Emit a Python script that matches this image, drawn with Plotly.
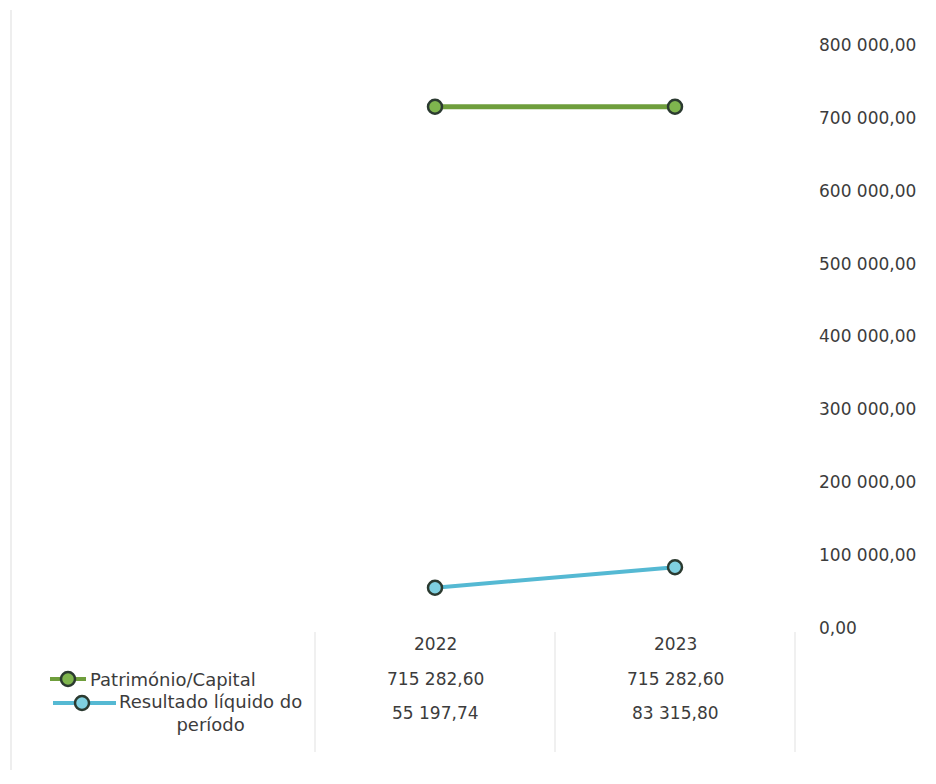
import plotly.graph_objects as go

W, H = 936, 784
OFF = 8  # page body margin compensation

years = ["2022", "2023"]
patrimonio = [715282.60, 715282.60]
resultado = [55197.74, 83315.80]
series_names = ["Património/Capital", "Resultado líquido do<br>período"]
y_ticks = [0, 100000, 200000, 300000, 400000, 500000, 600000, 700000, 800000]

green_line = "#6f9e3c"
green_fill = "#7fb54e"
blue_line = "#55b9d3"
blue_fill = "#7fd0e0"
marker_edge = "#2b3a30"
txt = "#3c3c3c"
FONT = "DejaVu Sans"


def fmt(v):
    return f"{v:,.2f}".replace(",", " ").replace(".", ",")


def px(x):
    return (x - OFF) / W


def py(y):
    return 1 - (y - OFF) / H


fig = go.Figure()
fig.add_trace(go.Scatter(
    x=years, y=patrimonio, mode="lines+markers", name="Património/Capital",
    line=dict(color=green_line, width=5),
    marker=dict(size=14, color=green_fill, line=dict(color=marker_edge, width=2.5)),
    showlegend=False, cliponaxis=False,
))
fig.add_trace(go.Scatter(
    x=years, y=resultado, mode="lines+markers", name="Resultado líquido do período",
    line=dict(color=blue_line, width=4),
    marker=dict(size=14, color=blue_fill, line=dict(color=marker_edge, width=2.5)),
    showlegend=False, cliponaxis=False,
))

shapes = []
annotations = []
grid_col = "#ebebeb"
for xpix in [315, 555, 795]:
    shapes.append(dict(type="line", xref="paper", yref="paper",
                       x0=px(xpix), x1=px(xpix), y0=py(632), y1=py(752),
                       line=dict(color=grid_col, width=1.5)))
shapes.append(dict(type="line", xref="paper", yref="paper",
                   x0=px(11), x1=px(11), y0=py(10), y1=py(770),
                   line=dict(color="#eeeeee", width=2)))

for i, yr in enumerate(years):
    annotations.append(dict(x=i, xref="x", y=py(644), yref="paper", text=yr,
                            showarrow=False, xanchor="center", yanchor="middle",
                            font=dict(family=FONT, size=17, color=txt)))

rows = [
    (patrimonio, 679, 679, green_line, green_fill, 50, 86, 68, 88),
    (resultado, 713, 703, blue_line, blue_fill, 53, 116, 82, 117),
]
for (vals, ypix, key_y, lc, fc, lx0, lx1, cx, tx), name in zip(rows, series_names):
    for i, v in enumerate(vals):
        annotations.append(dict(x=i, xref="x", y=py(ypix), yref="paper", text=fmt(v),
                                showarrow=False, xanchor="center", yanchor="middle",
                                font=dict(family=FONT, size=17, color=txt)))
    shapes.append(dict(type="line", xref="paper", yref="paper",
                       x0=px(lx0), x1=px(lx1), y0=py(key_y), y1=py(key_y),
                       line=dict(color=lc, width=4)))
    shapes.append(dict(type="circle", xref="paper", yref="paper",
                       x0=px(cx - 7), x1=px(cx + 7), y0=py(key_y + 7), y1=py(key_y - 7),
                       fillcolor=fc, line=dict(color=marker_edge, width=2.5)))
    annotations.append(dict(x=px(tx), xref="paper", y=py(ypix), yref="paper", text=name,
                            showarrow=False, xanchor="left", yanchor="middle", align="center",
                            font=dict(family=FONT, size=18, color=txt)))

fig.update_layout(
    width=W, height=H,
    margin=dict(l=0, r=0, t=0, b=0, autoexpand=False),
    paper_bgcolor="white", plot_bgcolor="white",
    separators=", ",
    font=dict(family=FONT, size=17, color=txt),
    xaxis=dict(domain=[px(315), px(795)], type="category", range=[-0.5, 1.5],
               showgrid=False, showline=False, zeroline=False,
               showticklabels=False, ticks="", automargin=False),
    yaxis=dict(domain=[py(628), py(45)], range=[0, 800000], side="right",
               showgrid=False, showline=False, zeroline=False,
               tickvals=y_ticks, ticktext=[fmt(v) for v in y_ticks],
               ticks="", ticklabelstandoff=23, automargin=False,
               tickfont=dict(family=FONT, size=17, color=txt)),
    shapes=shapes, annotations=annotations,
)

fig.write_html("out.html")
